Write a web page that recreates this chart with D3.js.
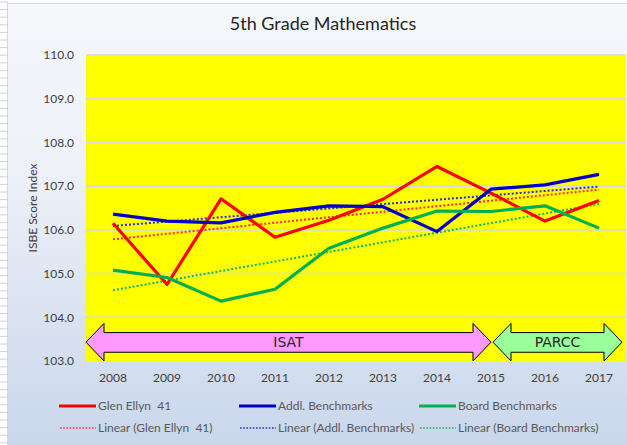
<!DOCTYPE html>
<html><head><meta charset="utf-8">
<script src="https://cdn.jsdelivr.net/npm/d3@7"></script>
<style>
html,body{margin:0;padding:0;background:#fff;}
svg{display:block;}
text{font-family:Lato,"Open Sans",sans-serif;}
</style></head>
<body>
<svg id="chart" width="627" height="445"></svg>
<script>
const years = ["2008","2009","2010","2011","2012","2013","2014","2015","2016","2017"];
const glenEllyn = [106.15,104.75,106.71,105.83,106.22,106.70,107.45,106.84,106.20,106.67];
const addlBench = [106.36,106.20,106.16,106.40,106.55,106.53,105.96,106.93,107.03,107.27];
const boardBench = [105.08,104.91,104.37,104.64,105.58,106.04,106.43,106.42,106.55,106.04];
const yTicks = [103,104,105,106,107,108,109,110];
const seriesNames = ["Glen Ellyn  41","Addl. Benchmarks","Board Benchmarks"];
const seriesColors = ["#ff0000","#0000c8","#00b050"];
const trendColors = ["#ff2a2a","#2a2ad0","#14b45a"];
const phaseLabels = ["ISAT","PARCC"];
const phaseFrom = ["2008","2015"];
const phaseTo = ["2015","2017"];
const phaseColors = ["#ff99ff","#99ff99"];

const svg = d3.select("#chart");
const W = 627, H = 445;

// page strip (spreadsheet rows)
const rowLines = d3.range(2, H, 7.6);
svg.append("g").selectAll("line").data(rowLines).join("line")
  .attr("x1",0).attr("x2",8).attr("y1",d=>d).attr("y2",d=>d)
  .attr("stroke","#cfd2d6").attr("stroke-width",1);

// chart area gradient
const defs = svg.append("defs");
const grad = defs.append("linearGradient").attr("id","bg").attr("x1",0).attr("x2",0).attr("y1",0).attr("y2",1);
grad.append("stop").attr("offset","0%").attr("stop-color","#f5f7fb");
grad.append("stop").attr("offset","35%").attr("stop-color","#eef1f8");
grad.append("stop").attr("offset","100%").attr("stop-color","#c6d4ea");
svg.append("rect").attr("x",7.5).attr("y",3.5).attr("width",W+20).attr("height",H+20)
  .attr("fill","url(#bg)").attr("stroke","#d4d8de").attr("stroke-width",1);

const plot = {l:86, r:626, t:55, b:361};
const x = d3.scaleBand().domain(years).range([plot.l, plot.r]);
const xc = d => x(d) + x.bandwidth()/2;
const y = d3.scaleLinear().domain([103,110]).range([plot.b, plot.t]);

// plot area
svg.append("rect").attr("x",plot.l).attr("y",plot.t).attr("width",plot.r-plot.l).attr("height",plot.b-plot.t)
  .attr("fill","#ffff00");

// gridlines
svg.append("g").selectAll("line").data(yTicks.filter(t=>t>103)).join("line")
  .attr("x1",plot.l).attr("x2",plot.r).attr("y1",d=>y(d)).attr("y2",d=>y(d))
  .attr("stroke","#d9d9d9").attr("stroke-width",1.6);

// y axis labels
const yAxis = d3.axisLeft(y).tickValues(yTicks).tickFormat(d3.format(".1f")).tickSize(0).tickPadding(12);
const gy = svg.append("g").attr("transform",`translate(${plot.l},0)`).call(yAxis);
gy.select(".domain").remove();
gy.selectAll("text").attr("font-size",12).attr("fill","#404040").style("font-family","Lato, sans-serif");

// x axis labels
const xAxis = d3.axisBottom(x).tickSize(0).tickPadding(12);
const gx = svg.append("g").attr("transform",`translate(0,${plot.b})`).call(xAxis);
gx.select(".domain").remove();
gx.selectAll("text").attr("font-size",12).attr("fill","#404040").style("font-family","Lato, sans-serif");

// title
svg.append("text").attr("x",323).attr("y",30).attr("text-anchor","middle")
  .attr("font-size",18).attr("fill","#262626").text("5th Grade Mathematics");

// y title
svg.append("text").attr("transform",`translate(37,${(plot.t+plot.b)/2}) rotate(-90)`)
  .attr("text-anchor","middle").attr("font-size",12).attr("fill","#404040").text("ISBE Score Index");

// phase arrows
const yTop = y(103.86), yBot = y(103.0), sTop = y(103.65), sBot = y(103.2), yMid = (yTop+yBot)/2;
const head = 18;
phaseLabels.forEach((lab,i)=>{
  const x0 = i===0 ? x(phaseFrom[i]) : xc(phaseFrom[i]) + 2;
  const x1 = i===0 ? xc(phaseTo[i]) : x(phaseTo[i]) + x.bandwidth() - 4;
  const p = d3.path();
  p.moveTo(x0, yMid);
  p.lineTo(x0+head, yTop);
  p.lineTo(x0+head, sTop);
  p.lineTo(x1-head, sTop);
  p.lineTo(x1-head, yTop);
  p.lineTo(x1, yMid);
  p.lineTo(x1-head, yBot);
  p.lineTo(x1-head, sBot);
  p.lineTo(x0+head, sBot);
  p.lineTo(x0+head, yBot);
  p.closePath();
  svg.append("path").attr("d",p.toString()).attr("fill",phaseColors[i]).attr("stroke","#000").attr("stroke-width",1);
  svg.append("text").attr("x",(x0+x1)/2).attr("y",yMid+5).attr("text-anchor","middle")
    .attr("font-size",14).attr("fill","#262626").style("font-family","'DejaVu Sans', sans-serif").text(lab);
});

// trend lines (least squares, as Excel's linear trendline)
const allSeries = [glenEllyn, addlBench, boardBench];
function fit(vals){
  const n = vals.length, xs = d3.range(n);
  const mx = d3.mean(xs), my = d3.mean(vals);
  const sxy = d3.sum(xs, (xi,k)=>(xi-mx)*(vals[k]-my));
  const sxx = d3.sum(xs, xi=>(xi-mx)*(xi-mx));
  const b = sxy/sxx, a = my - b*mx;
  return xs.map(xi=>a+b*xi);
}
const line = d3.line().x((d,i)=>xc(years[i])).y(d=>y(d));
allSeries.forEach((s,i)=>{
  svg.append("path").datum(fit(s)).attr("d",line).attr("fill","none")
    .attr("stroke",trendColors[i]).attr("stroke-width",2).attr("stroke-dasharray","2,2");
});
// series lines
allSeries.forEach((s,i)=>{
  svg.append("path").datum(s).attr("d",line).attr("fill","none")
    .attr("stroke",seriesColors[i]).attr("stroke-width",3.2).attr("stroke-linejoin","round");
});

// legend
const legX = [98, 278, 458];
const legRow = [406, 428];
seriesNames.forEach((name,i)=>{
  const g = svg.append("g");
  g.append("line").attr("x1",legX[i]-39).attr("x2",legX[i]-2).attr("y1",legRow[0]).attr("y2",legRow[0])
    .attr("stroke",seriesColors[i]).attr("stroke-width",3.2);
  g.append("text").attr("x",legX[i]).attr("y",legRow[0]+4).attr("font-size",12).attr("fill","#595959")
    .style("white-space","pre").text(name);
  g.append("line").attr("x1",legX[i]-38).attr("x2",legX[i]-2).attr("y1",legRow[1]).attr("y2",legRow[1])
    .attr("stroke",trendColors[i]).attr("stroke-width",1.6).attr("stroke-dasharray","1.6,1.6");
  g.append("text").attr("x",legX[i]).attr("y",legRow[1]+4).attr("font-size",12).attr("fill","#595959")
    .style("white-space","pre").text(`Linear (${name})`);
});
</script>
</body></html>
